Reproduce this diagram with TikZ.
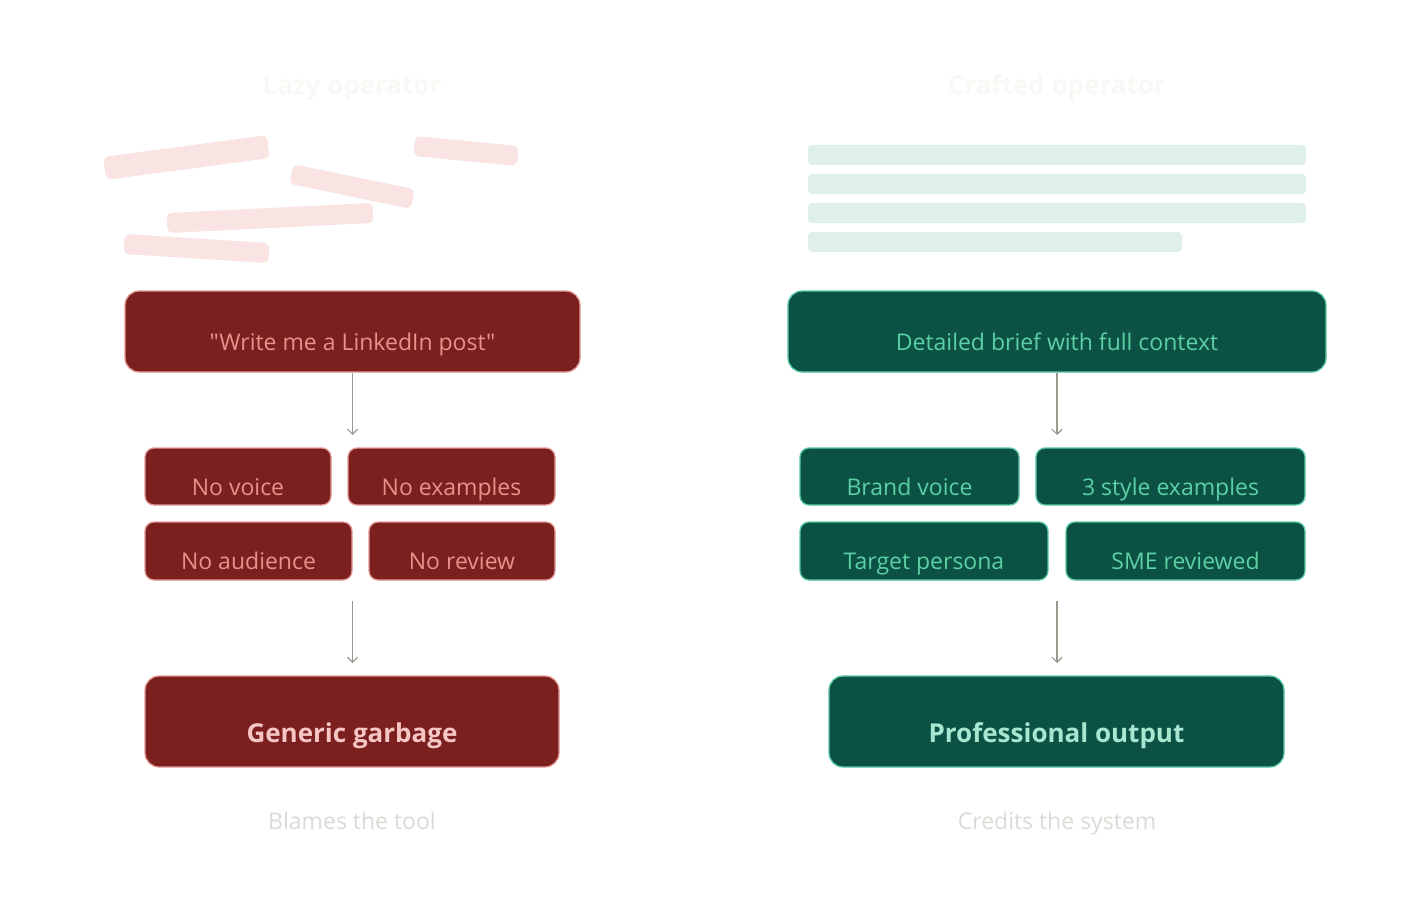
\documentclass[tikz,border=0pt]{standalone}
\usepackage{fontspec}
\setmainfont{Open Sans}
\newfontfamily\rawsans{Open Sans}
\usetikzlibrary{arrows.meta}
\definecolor{redfill}{HTML}{7B1F1F}
\definecolor{redline}{HTML}{E39A98}
\definecolor{redtext}{HTML}{E8918D}
\definecolor{redbig}{HTML}{F5C6C4}
\definecolor{redbar}{HTML}{F9E3E3}
\definecolor{grnfill}{HTML}{0B5245}
\definecolor{grnline}{HTML}{5CC9A7}
\definecolor{grntext}{HTML}{5DCFA5}
\definecolor{grnbig}{HTML}{A8E6CF}
\definecolor{grnbar}{HTML}{DFF0EA}
\definecolor{titlec}{HTML}{F9F8F4}
\definecolor{footc}{HTML}{DCDAD5}
\definecolor{arrowc}{HTML}{9A9990}
\tikzset{
  rbox/.style={draw=redline, fill=redfill, line width=1.3pt, inner sep=0pt},
  gbox/.style={draw=grnline, fill=grnfill, line width=1.3pt, inner sep=0pt},
  bigr/.style={rounded corners=14pt},
  smallr/.style={rounded corners=9pt},
  rbarst/.style={fill=redbar, rounded corners=5pt, inner sep=0pt, minimum height=20pt},
  gbarst/.style={fill=grnbar, rounded corners=4pt, inner sep=0pt, minimum height=20pt},
  txt/.style={anchor=base, font=\fontsize{23}{27}\selectfont, inner sep=0pt},
  bigtxt/.style={anchor=base, font=\fontsize{26}{31}\selectfont\bfseries, inner sep=0pt},
  titletxt/.style={anchor=base, font=\fontsize{26}{31}\selectfont\bfseries, text=titlec, inner sep=0pt},
  foottxt/.style={anchor=base, font=\fontsize{23}{27}\selectfont, text=footc, inner sep=0pt},
  flow/.style={draw=arrowc, line width=1.2pt, -{Straight Barb[length=5pt,width=10pt,line width=1.2pt]}},
}
\begin{document}
\begin{tikzpicture}[x=1pt,y=-1pt]
\useasboundingbox[fill=white] (0,0) rectangle (1410,912);

% titles
\node[titletxt] (tl) at (352,95) {Lazy operator};
\node[titletxt] (tr) at (1057,95) {Crafted operator};

% scattered red bars
\node[rbarst, minimum width=165pt, minimum height=23pt, rotate=7.6] (rb1) at (186.5,157.5) {};
\node[rbarst, minimum width=104pt, rotate=-5.5] (rb2) at (466,151) {};
\node[rbarst, minimum width=124pt, rotate=-11.7] (rb3) at (352,186.5) {};
\node[rbarst, minimum width=206pt, rotate=2.8] (rb4) at (270,218) {};
\node[rbarst, minimum width=145pt, rotate=-3.6] (rb5) at (196.5,248.5) {};

% neat green bars
\node[gbarst, minimum width=498pt] (gb1) at (1057,155) {};
\node[gbarst, minimum width=498pt] (gb2) at (1057,184) {};
\node[gbarst, minimum width=498pt] (gb3) at (1057,213) {};
\node[gbarst, minimum width=374pt] (gb4) at (995,242) {};

% red side
\node[rbox, bigr, minimum width=455pt, minimum height=81pt] (rq) at (352.5,331.5) {};
\node[txt, text=redtext] (rqt) at ([yshift=-18.5pt]rq.center) {\rawsans "Write me a LinkedIn post"};
\node[rbox, smallr, minimum width=186pt, minimum height=57pt] (rv) at (238,476.5) {};
\node[txt, text=redtext] (rvt) at ([yshift=-18.5pt]rv.center) {No voice};
\node[rbox, smallr, minimum width=207pt, minimum height=57pt] (re) at (451.5,476.5) {};
\node[txt, text=redtext] (ret) at ([yshift=-18.5pt]re.center) {No examples};
\node[rbox, smallr, minimum width=207pt, minimum height=58pt] (ra) at (248.5,551) {};
\node[txt, text=redtext] (rat) at ([yshift=-18.5pt]ra.center) {No audience};
\node[rbox, smallr, minimum width=186pt, minimum height=58pt] (rr) at (462,551) {};
\node[txt, text=redtext] (rrt) at ([yshift=-18.5pt]rr.center) {No review};
\node[rbox, bigr, minimum width=414pt, minimum height=91pt] (rg) at (352,721.5) {};
\node[bigtxt, text=redbig] (rgt) at ([yshift=-20.5pt]rg.center) {Generic garbage};
\node[foottxt] (rf) at (352,829) {Blames the tool};

\coordinate (ra1) at (352.5,435);
\coordinate (ra2s) at (352.5,601);
\coordinate (ra2e) at (352.5,663);
\draw[flow] (rq.south) -- (ra1);
\draw[flow] (ra2s) -- (ra2e);

% green side
\node[gbox, bigr, minimum width=538pt, minimum height=81pt] (gq) at (1057,331.5) {};
\node[txt, text=grntext] (gqt) at ([yshift=-18.5pt]gq.center) {Detailed brief with full context};
\node[gbox, smallr, minimum width=219pt, minimum height=57pt] (gv) at (909.5,476.5) {};
\node[txt, text=grntext] (gvt) at ([yshift=-18.5pt]gv.center) {Brand voice};
\node[gbox, smallr, minimum width=269pt, minimum height=57pt] (ge) at (1170.5,476.5) {};
\node[txt, text=grntext] (get) at ([yshift=-18.5pt]ge.center) {3 style examples};
\node[gbox, smallr, minimum width=248pt, minimum height=58pt] (ga) at (924,551) {};
\node[txt, text=grntext] (gat) at ([yshift=-18.5pt]ga.center) {Target persona};
\node[gbox, smallr, minimum width=239pt, minimum height=58pt] (gr) at (1185.5,551) {};
\node[txt, text=grntext] (grt) at ([yshift=-18.5pt]gr.center) {SME reviewed};
\node[gbox, bigr, minimum width=455pt, minimum height=91pt] (gp) at (1056.5,721.5) {};
\node[bigtxt, text=grnbig] (gpt) at ([yshift=-20.5pt]gp.center) {Professional output};
\node[foottxt] (gf) at (1057,829) {Credits the system};

\coordinate (ga1) at (1057,435);
\coordinate (ga2s) at (1057,601);
\coordinate (ga2e) at (1057,663);
\draw[flow] (gq.south) -- (ga1);
\draw[flow] (ga2s) -- (ga2e);
\end{tikzpicture}
\end{document}
